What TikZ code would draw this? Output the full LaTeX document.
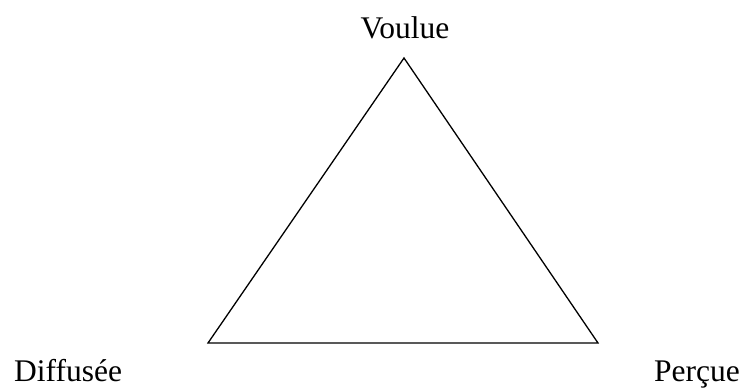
\documentclass[tikz,border=0pt]{standalone}
\usepackage{fontspec}
\setmainfont{Liberation Serif}
\begin{document}
\begin{tikzpicture}[x=1pt,y=-1pt,
  lbl/.style={inner sep=0pt,font=\fontsize{31.5}{37}\selectfont},
  edge/.style={draw=black,line width=1.3pt,line join=miter}]
\useasboundingbox (0,0) rectangle (742,388);
\coordinate (top) at (404,58);
\coordinate (left) at (208,343);
\coordinate (right) at (598,343);
\draw[edge] (top) -- (left) -- (right) -- cycle;
\node[lbl,anchor=base] (voulue) at (405,38.3) {Voulue};
\node[lbl,anchor=base west] (diff) at (14,381) {Diffusée};
\node[lbl,anchor=base west] (perc) at (654,381) {Perçue};
\end{tikzpicture}
\end{document}
